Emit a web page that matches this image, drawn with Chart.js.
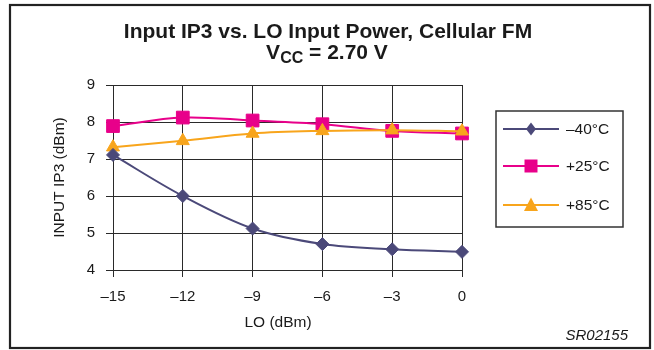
<!DOCTYPE html>
<html>
<head>
<meta charset="utf-8">
<title>Input IP3 vs. LO Input Power</title>
<script src="https://cdn.jsdelivr.net/npm/chart.js@4"></script>
<style>
  html, body { margin: 0; padding: 0; background: #fff; }
  canvas { display: block; }
</style>
</head>
<body>
<canvas id="ip3Chart" width="654" height="350"></canvas>
<script>
const loLabels = ['\u201315', '\u201312', '\u20139', '\u20136', '\u20133', '0'];
const ip3Minus40 = [7.11, 6.00, 5.12, 4.70, 4.56, 4.49];
const ip3Plus25 = [7.89, 8.12, 8.04, 7.94, 7.76, 7.69];
const ip3Plus85 = [7.32, 7.49, 7.69, 7.76, 7.78, 7.75];
const seriesNames = ['\u201340\u00b0C', '+25\u00b0C', '+85\u00b0C'];
const yMin = 4;
const yMax = 9;
const yStep = 1;

const FONT = "'Liberation Sans', Arial, Helvetica, sans-serif";
const TEXT = '#1a1a1a';
const GRID = '#2a2a2a';
const colors = ['#4b4979', '#e8008a', '#f8a51c'];
const styles = ['rectRot', 'rect', 'triangle'];
const radii = [6.5, 9, 7.5];

// titles, x-axis label, footnote, frame and the boxed legend
const decorations = {
    id: 'decorations',
    afterDraw(chart) {
        const ctx = chart.ctx;
        const area = chart.chartArea;
        ctx.save();

        // frame
        ctx.strokeStyle = '#222';
        ctx.lineWidth = 2.2;
        ctx.strokeRect(10, 5, 640, 343);

        // title line 1
        ctx.fillStyle = TEXT;
        ctx.textBaseline = 'alphabetic';
        ctx.textAlign = 'center';
        ctx.font = 'bold 21px ' + FONT;
        ctx.fillText('Input IP3 vs. LO Input Power, Cellular FM', 328, 38);

        // title line 2 with subscript
        const big = 'bold 21px ' + FONT;
        const small = 'bold 16px ' + FONT;
        ctx.textAlign = 'left';
        ctx.font = big;
        const wV = ctx.measureText('V').width;
        const wRest = ctx.measureText(' = 2.70 V').width;
        ctx.font = small;
        const wCC = ctx.measureText('CC').width;
        let x = 327 - (wV + wCC + wRest) / 2;
        ctx.font = big;
        ctx.fillText('V', x, 59);
        x += wV;
        ctx.font = small;
        ctx.fillText('CC', x, 63);
        x += wCC;
        ctx.font = big;
        ctx.fillText(' = 2.70 V', x, 59);

        // x-axis title
        ctx.textAlign = 'center';
        ctx.textBaseline = 'middle';
        ctx.font = '15.5px ' + FONT;
        ctx.fillText('LO (dBm)', 278, 323);

        // footnote
        ctx.textAlign = 'right';
        ctx.textBaseline = 'alphabetic';
        ctx.font = 'italic 15px ' + FONT;
        ctx.fillText('SR02155', 628, 340);

        // legend box
        const boxL = area.right + 34;
        const boxT = area.top + 26;
        ctx.strokeStyle = '#333';
        ctx.lineWidth = 1.5;
        ctx.strokeRect(boxL, boxT, 127, 116);

        const rowY = [boxT + 18, boxT + 55, boxT + 94];
        seriesNames.forEach((name, i) => {
            const y = rowY[i];
            ctx.strokeStyle = colors[i];
            ctx.fillStyle = colors[i];
            ctx.lineWidth = 2;
            ctx.beginPath();
            ctx.moveTo(boxL + 7, y);
            ctx.lineTo(boxL + 63, y);
            ctx.stroke();
            const cx = boxL + 35;
            ctx.beginPath();
            if (i === 0) {
                ctx.moveTo(cx, y - 6.5);
                ctx.lineTo(cx + 5, y);
                ctx.lineTo(cx, y + 6.5);
                ctx.lineTo(cx - 5, y);
            } else if (i === 1) {
                ctx.rect(cx - 6.5, y - 6.5, 13, 13);
            } else {
                ctx.moveTo(cx, y - 7.5);
                ctx.lineTo(cx + 7, y + 6);
                ctx.lineTo(cx - 7, y + 6);
            }
            ctx.closePath();
            ctx.fill();
            ctx.fillStyle = TEXT;
            ctx.font = '15.5px ' + FONT;
            ctx.textAlign = 'left';
            ctx.textBaseline = 'middle';
            ctx.fillText(name, boxL + 70, y + 1);
        });
        ctx.restore();
    }
};

function makeDataset(label, data, i, order) {
    return {
        label: label,
        data: data,
        borderColor: colors[i],
        backgroundColor: colors[i],
        pointBackgroundColor: colors[i],
        pointBorderColor: colors[i],
        pointStyle: styles[i],
        pointRadius: radii[i],
        pointBorderWidth: 1,
        borderWidth: 2,
        tension: 0.35,
        fill: false,
        clip: false,
        order: order
    };
}

const ctx = document.getElementById('ip3Chart').getContext('2d');
new Chart(ctx, {
    type: 'line',
    data: {
        labels: loLabels,
        datasets: [
            makeDataset(seriesNames[0], ip3Minus40, 0, 0),
            makeDataset(seriesNames[1], ip3Plus25, 1, 2),
            makeDataset(seriesNames[2], ip3Plus85, 2, 1)
        ]
    },
    options: {
        responsive: false,
        animation: false,
        layout: { padding: { left: 0, right: 192, top: 85, bottom: 0 } },
        plugins: {
            legend: { display: false },
            title: { display: false },
            tooltip: { enabled: false }
        },
        scales: {
            x: {
                type: 'category',
                offset: false,
                grid: { color: GRID, lineWidth: 1, tickLength: 7 },
                border: { color: GRID, width: 1 },
                ticks: {
                    color: TEXT,
                    font: { family: FONT, size: 15 },
                    padding: 11,
                    maxRotation: 0,
                    autoSkip: false
                },
                afterFit(scale) { scale.height = 80; }
            },
            y: {
                min: yMin,
                max: yMax,
                grid: { color: GRID, lineWidth: 1, tickLength: 7 },
                border: { color: GRID, width: 1 },
                ticks: {
                    stepSize: yStep,
                    color: TEXT,
                    font: { family: FONT, size: 15 },
                    padding: 11
                },
                title: {
                    display: true,
                    text: 'INPUT IP3 (dBm)',
                    color: TEXT,
                    font: { family: FONT, size: 15.5 },
                    padding: { top: 50, bottom: 0 }
                },
                afterFit(scale) { scale.width = 113; }
            }
        }
    },
    plugins: [decorations]
});
</script>
</body>
</html>
